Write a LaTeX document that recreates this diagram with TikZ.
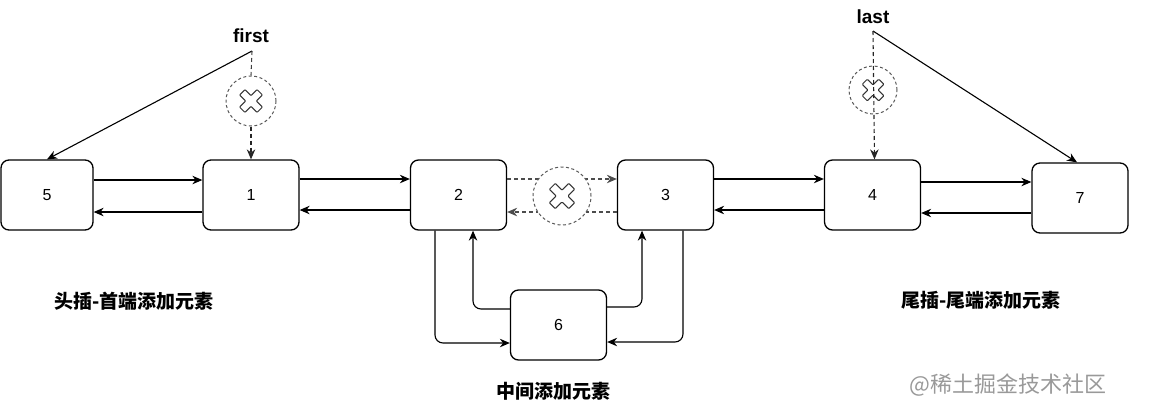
\documentclass[tikz,border=0pt]{standalone}
\usepackage{fontspec}
\setmainfont{Liberation Sans}
\newfontfamily\cjk{Noto Sans CJK SC}
\usetikzlibrary{arrows.meta,calc}
\begin{document}
\begin{tikzpicture}[x=1pt,y=-1pt,
  box/.style={draw=black,line width=1.3pt,rounded corners=8pt,minimum width=96pt,minimum height=70pt,font=\fontsize{16}{16}\selectfont,inner sep=0pt},
  arr/.style={line width=1.1pt,-{Stealth[length=10pt,width=8.5pt]}},
  darr/.style={line width=1.1pt,dashed,dash pattern=on 4pt off 3pt,draw=black!70,-{Stealth[length=10pt,width=8.5pt]}},
  xcirc/.style={circle,draw=black!65,line width=1pt,dash pattern=on 3pt off 2.5pt,minimum size=#1,inner sep=0pt},
  lbl/.style={font=\cjk\bfseries\fontsize{19}{19}\selectfont},
  ptr/.style={font=\bfseries\fontsize{19}{19}\selectfont,inner sep=0pt}
]
\useasboundingbox (0,0) rectangle (1166,416);
\def\xmark#1#2{%
  \begin{scope}[shift={(#1)},rotate=45,scale=#2]
  \draw[line width=1pt,black!80,rounded corners=0.8pt,fill=white]
    (-4,-13) -- (4,-13) -- (4,-4) -- (13,-4) -- (13,4) -- (4,4) -- (4,13) -- (-4,13)
    -- (-4,4) -- (-13,4) -- (-13,-4) -- (-4,-4) -- cycle;
  \end{scope}}

% nodes
\node[box,minimum width=92pt] (n5) at (47,195) {5};
\node[box] (n1) at (251,195) {1};
\node[box] (n2) at (458.5,195) {2};
\node[box] (n3) at (665.5,195) {3};
\node[box] (n4) at (872.5,195) {4};
\node[box] (n7) at (1080,198) {7};
\node[box] (n6) at (558.5,325) {6};

% horizontal links
\draw[arr] ([yshift=15pt]n5.east) -- ([yshift=15pt]n1.west);
\draw[arr] ([yshift=-17pt]n1.west) -- ([yshift=-17pt]n5.east);
\draw[arr] ([yshift=16pt]n1.east) -- ([yshift=16pt]n2.west);
\draw[arr] ([yshift=-15pt]n2.west) -- ([yshift=-15pt]n1.east);
\draw[arr] ([yshift=16pt]n3.east) -- ([yshift=16pt]n4.west);
\draw[arr] ([yshift=-15pt]n4.west) -- ([yshift=-15pt]n3.east);
\draw[arr] ([yshift=13pt]n4.east) -- ([yshift=13pt]n4.east -| n7.west);
\draw[arr] ([yshift=-18pt]n4.east -| n7.west) -- ([yshift=-18pt]n4.east);

% middle broken link
\draw[darr] ([yshift=16pt]n2.east) -- ([yshift=16pt]n3.west);
\draw[darr] ([yshift=-17pt]n3.west) -- ([yshift=-17pt]n2.east);
\node[xcirc=58pt,fill=white] (xm) at (562,196) {};
\xmark{xm}{1.05}

% loops through 6
\draw[arr,rounded corners=8pt] ([xshift=-23.5pt]n2.south) |- ([yshift=-18pt]n6.west);
\draw[arr,rounded corners=8pt] ([yshift=16pt]n6.west) -| ([xshift=14.5pt]n2.south);
\draw[arr,rounded corners=8pt] ([yshift=18pt]n6.east) -| ([xshift=-23.5pt]n3.south);
\draw[arr,rounded corners=8pt] ([xshift=17.5pt]n3.south) |- ([yshift=-17pt]n6.east);

% first pointer
\node[ptr] (first) at (251,36) {first};
\coordinate (fp) at (252,51);
\node[xcirc=50pt] (xf) at (251,101) {};
\xmark{xf}{0.95}
\draw[arr] (fp) -- (n5.north);
\draw[line width=1.1pt,dash pattern=on 4pt off 3pt,draw=black!75] (fp) -- (xf.north);
\draw[darr,draw=black!85] (xf.south) -- (n1.north);

% last pointer
\node[ptr] (last) at (873,17) {last};
\coordinate (lp) at (873,31);
\node[xcirc=48pt] (xl) at (873,90) {};
\xmark{xl}{0.9}
\draw[arr] (lp) -- ([xshift=-3pt]n7.north);
\draw[darr,draw=black!85] (lp) -- ([xshift=2pt]n4.north);

% labels
\node[lbl] (l1) at (134,301) {头插-首端添加元素};
\node[lbl] (l2) at (981,300) {尾插-尾端添加元素};
\node[lbl] (l3) at (553,391) {中间添加元素};
\node[font=\cjk\fontsize{22}{22}\selectfont,text=black!40] (wm) at (1008,385) {@稀土掘金技术社区};
\end{tikzpicture}
\end{document}
